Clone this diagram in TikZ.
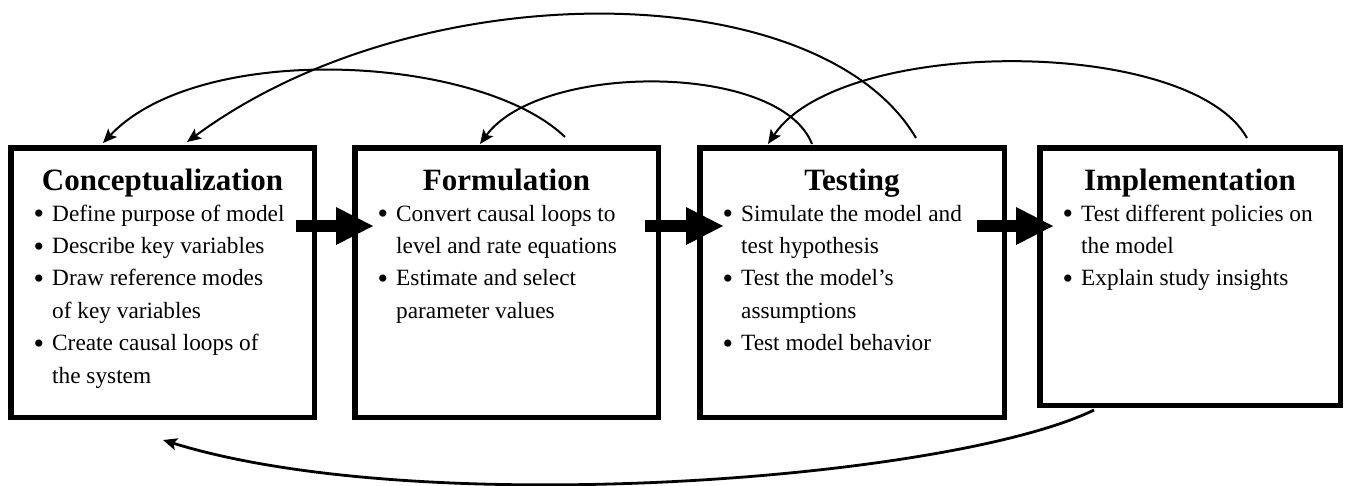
\documentclass[tikz,border=0pt]{standalone}
\usepackage{fontspec}
\setmainfont{Liberation Serif}
\usetikzlibrary{arrows.meta,calc}
\newcommand\itm{\makebox[18.5pt][l]{\raisebox{-2.8pt}{\fontsize{30}{30}\selectfont •}}}
\newcommand\cont{\hspace*{18.5pt}}
\begin{document}
\begin{tikzpicture}[x=1pt,y=-1pt,
  stage/.style={draw, line width=5.5pt, rectangle, inner sep=0pt, fill=white},
  stagetitle/.style={font=\fontsize{31}{36}\selectfont\bfseries, anchor=base, inner sep=0pt},
  stagebody/.style={font=\fontsize{23.3}{32.4}\selectfont, align=left, anchor=base west, inner sep=0pt},
  flow/.style={line width=11.5pt, -{Triangle[length=37pt,width=38pt,line width=0pt]}},
  loopback/.style={line width=2pt, -{Stealth[length=14pt,width=12pt,inset=3pt]}},
]
\useasboundingbox (0,0) rectangle (1346,485);

% stage boxes
\node[stage, minimum width=303.5pt, minimum height=269.5pt] (b1) at (162.5,282.5) {};
\node[stage, minimum width=303.5pt, minimum height=269.5pt] (b2) at (506.5,282.5) {};
\node[stage, minimum width=304.5pt, minimum height=269.5pt] (b3) at (852,282.5) {};
\node[stage, minimum width=300.5pt, minimum height=257.5pt] (b4) at (1190,276.5) {};

% titles
\node[stagetitle] (t1) at ($(b1.north)+(0,45)$) {Conceptualization};
\node[stagetitle] (t2) at ($(b2.north)+(0,45)$) {Formulation};
\node[stagetitle] (t3) at ($(b3.north)+(0,45)$) {Testing};
\node[stagetitle] (t4) at ($(b4.north)+(0,45)$) {Implementation};

% activities (the base anchor sits on the last line, 32.4pt per line)
\node[stagebody] (l1) at ($(b1.north west)+(25.5,238)$) {\itm Define purpose of model\\
  \itm Describe key variables\\
  \itm Draw reference modes\\
  \cont of key variables\\
  \itm Create causal loops of\\
  \cont the system};
\node[stagebody] (l2) at ($(b2.north west)+(25.5,173.2)$) {\itm Convert causal loops to\\
  \cont level and rate equations\\
  \itm Estimate and select\\
  \cont parameter values};
\node[stagebody] (l3) at ($(b3.north west)+(25.5,205.6)$) {\itm Simulate the model and\\
  \cont test hypothesis\\
  \itm Test the model’s\\
  \cont assumptions\\
  \itm Test model behavior};
\node[stagebody] (l4) at ($(b4.north west)+(25.5,140.8)$) {\itm Test different policies on\\
  \cont the model\\
  \itm Explain study insights};

% forward flow between stages
\draw[flow] ($(b1.north east)+(-21,81)$) -- ($(b2.north west)+(21,81)$);
\draw[flow] ($(b2.north east)+(-16,81)$) -- ($(b3.north west)+(26,81)$);
\draw[flow] ($(b3.north east)+(-30,81)$) -- ($(b4.north west)+(16,81)$);

% feedback loops over the top
\draw[loopback] ($(b2.north west)+(213,-8)$) .. controls +(-85,-82) and +(97,-103) .. ($(b1.north west)+(95,-2)$);
\draw[loopback] ($(b3.north west)+(219,-7)$) .. controls +(-96,-163) and +(233,-172) .. ($(b1.north west)+(179,-3)$);
\draw[loopback] ($(b3.north west)+(115,-1)$) .. controls +(-32,-82) and +(60,-82) .. ($(b2.north west)+(128,-1)$);
\draw[loopback] ($(b4.north west)+(210,-7)$) .. controls +(-57,-102) and +(72,-108) .. ($(b3.north west)+(71,-1)$);

% return loop underneath
\coordinate (ret) at ($(b1.south west)+(155,20)$);
\draw[loopback, line width=2.8pt] ($(b4.south west)+(57,2)$) .. controls +(-144,70) and +(257,80) .. (ret);
\end{tikzpicture}
\end{document}
